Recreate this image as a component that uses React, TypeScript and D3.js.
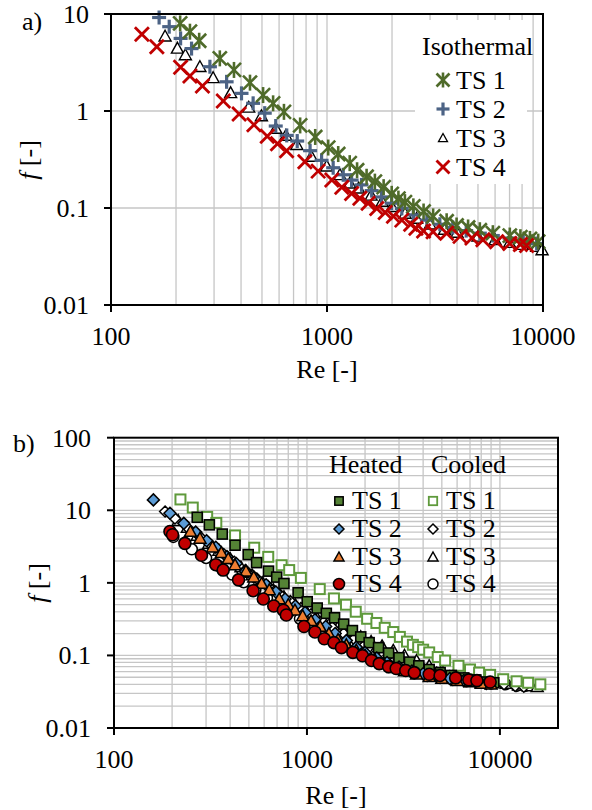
import React from "react";
import * as d3 from "d3";

// ---------- Chart a) Isothermal ----------
const isoTS1Re = [209, 232, 256, 319, 371, 440, 506, 563, 632, 751, 882, 1013, 1127, 1274, 1378, 1525, 1666, 1829, 1993, 2141, 2295, 2511, 2800, 3100, 3580, 3980, 4500, 5100, 5860, 7020, 7860, 8700, 9500];
const isoTS1F = [8.0, 6.57, 5.3, 3.49, 2.65, 1.96, 1.46, 1.2, 0.98, 0.71, 0.54, 0.42, 0.36, 0.29, 0.245, 0.21, 0.187, 0.164, 0.14, 0.125, 0.115, 0.104, 0.092, 0.082, 0.073, 0.066, 0.063, 0.059, 0.055, 0.052, 0.05, 0.048, 0.045];

const isoTS2Re = [167, 186, 210, 236, 287, 343, 402, 455, 515, 579, 651, 728, 835, 944, 1068, 1189, 1300, 1445, 1610, 1788, 1993, 2220, 2510, 2900, 3330, 3820, 4410, 5100, 5860, 7000, 8100, 9350];
const isoTS2F = [9.2, 7.4, 5.6, 4.4, 2.86, 2.0, 1.52, 1.2, 0.95, 0.7, 0.56, 0.49, 0.39, 0.31, 0.26, 0.22, 0.194, 0.173, 0.151, 0.13, 0.112, 0.099, 0.085, 0.075, 0.068, 0.063, 0.0585, 0.055, 0.052, 0.049, 0.046, 0.043];

const isoTS3Re = [178, 203, 221, 258, 297, 358, 434, 497, 580, 645, 725, 846, 997, 1148, 1275, 1400, 1600, 1800, 2000, 2300, 2600, 3000, 3500, 4000, 5000, 6000, 7000, 8000, 9350, 9900];
const isoTS3F = [5.9, 4.43, 3.78, 2.86, 2.2, 1.54, 1.09, 0.89, 0.66, 0.56, 0.45, 0.34, 0.27, 0.22, 0.18, 0.16, 0.135, 0.117, 0.103, 0.088, 0.078, 0.068, 0.06, 0.056, 0.051, 0.047, 0.044, 0.042, 0.04, 0.037];

const isoTS4Re = [139, 163, 210, 232, 265, 331, 392, 459, 529, 590, 650, 790, 910, 1053, 1171, 1300, 1420, 1550, 1700, 1860, 2030, 2220, 2440, 2580, 2800, 3100, 3580, 4130, 4690, 5270, 6100, 7020, 7860, 8400];
const isoTS4F = [6.2, 4.6, 2.82, 2.3, 1.81, 1.27, 0.93, 0.72, 0.55, 0.46, 0.39, 0.3, 0.24, 0.194, 0.164, 0.141, 0.126, 0.112, 0.099, 0.09, 0.082, 0.075, 0.068, 0.062, 0.058, 0.057, 0.055, 0.051, 0.049, 0.047, 0.045, 0.043, 0.042, 0.041];

// ---------- Chart b) Heated / Cooled ----------
const heatTS1Re = [270, 312, 364, 424, 496, 548, 632, 697, 760, 900, 1003, 1130, 1260, 1390, 1550, 1720, 1900, 2100, 2350, 2650, 3000, 3400, 3800, 4300, 4900, 5600, 6500, 7500, 8500, 9300];
const heatTS1F = [8.0, 6.3, 4.7, 3.3, 2.45, 1.9, 1.45, 1.2, 0.98, 0.73, 0.55, 0.45, 0.38, 0.33, 0.27, 0.22, 0.18, 0.15, 0.128, 0.108, 0.093, 0.081, 0.072, 0.064, 0.058, 0.053, 0.049, 0.046, 0.043, 0.042];

const coolTS1Re = [221, 256, 304, 339, 424, 533, 630, 739, 809, 930, 1165, 1380, 1593, 1790, 2050, 2290, 2530, 2800, 3030, 3300, 3540, 3770, 4000, 4300, 4760, 5200, 6100, 7000, 7800, 8900, 10400, 12200, 14000, 16200];
const coolTS1F = [14.1, 10.9, 8.1, 6.7, 4.5, 3.05, 2.28, 1.75, 1.5, 1.17, 0.82, 0.61, 0.5, 0.4, 0.32, 0.28, 0.24, 0.21, 0.18, 0.155, 0.14, 0.13, 0.12, 0.11, 0.095, 0.085, 0.072, 0.064, 0.058, 0.054, 0.047, 0.044, 0.042, 0.04];

const heatTS2Re = [160, 195, 230, 265, 302, 337, 385, 430, 480, 531, 614, 690, 770, 870, 978, 1100, 1250, 1400, 1600, 1800, 2000, 2300, 2600, 3000, 3500, 4000, 4700, 5500, 6500, 7500, 8500];
const heatTS2F = [13.9, 9.1, 6.6, 5.0, 3.8, 3.1, 2.3, 1.85, 1.45, 1.2, 0.94, 0.75, 0.6, 0.48, 0.39, 0.31, 0.25, 0.2, 0.16, 0.13, 0.11, 0.092, 0.08, 0.069, 0.061, 0.056, 0.052, 0.048, 0.045, 0.043, 0.041];

const heatTS3Re = [249, 279, 324, 360, 391, 424, 483, 530, 582, 638, 718, 800, 866, 950, 1050, 1170, 1300, 1450, 1600, 1800, 2000, 2250, 2500, 2800, 3200, 3700, 4300, 5000, 6000, 7000, 8000, 9000];
const heatTS3F = [5.1, 4.1, 3.1, 2.6, 2.15, 1.77, 1.45, 1.2, 0.98, 0.8, 0.6, 0.5, 0.42, 0.35, 0.3, 0.25, 0.2, 0.165, 0.14, 0.118, 0.1, 0.087, 0.077, 0.068, 0.061, 0.055, 0.051, 0.048, 0.045, 0.043, 0.041, 0.04];

const heatTS4Re = [195, 201, 233, 284, 337, 368, 442, 526, 594, 673, 755, 782, 965, 1100, 1230, 1380, 1510, 1730, 1940, 2160, 2370, 2650, 2900, 3250, 3600, 4300, 4900, 5900, 6900, 7600, 8900];
const heatTS4F = [5.1, 4.6, 3.5, 2.4, 1.78, 1.5, 1.1, 0.78, 0.6, 0.48, 0.42, 0.36, 0.25, 0.21, 0.17, 0.15, 0.128, 0.11, 0.099, 0.085, 0.077, 0.07, 0.066, 0.062, 0.058, 0.055, 0.053, 0.049, 0.046, 0.045, 0.043];

const coolTS2Re = [184, 207, 243, 280, 320, 370, 420, 480, 550, 630, 720, 820, 930, 1050, 1200, 1350, 1550, 1750, 2000, 2300, 2650, 3000, 3500, 4000, 4700, 5500, 6500, 7700, 9000, 10500, 12000, 13300];
const coolTS2F = [9.6, 7.7, 5.6, 4.3, 3.3, 2.5, 1.95, 1.5, 1.15, 0.9, 0.7, 0.56, 0.45, 0.37, 0.3, 0.245, 0.2, 0.168, 0.14, 0.118, 0.1, 0.088, 0.075, 0.066, 0.058, 0.052, 0.048, 0.045, 0.042, 0.04, 0.038, 0.037];

const coolTS3Re = [215, 240, 270, 310, 350, 400, 455, 520, 590, 670, 760, 870, 990, 1120, 1270, 1450, 1650, 1900, 2150, 2450, 2800, 3200, 3700, 4300, 5000, 5800, 6800, 8000, 9300, 10800, 12500, 14000, 15600];
const coolTS3F = [7.2, 5.8, 4.5, 3.5, 2.8, 2.15, 1.65, 1.28, 1.0, 0.8, 0.64, 0.5, 0.41, 0.34, 0.29, 0.25, 0.21, 0.18, 0.155, 0.135, 0.117, 0.1, 0.085, 0.072, 0.062, 0.055, 0.05, 0.046, 0.043, 0.041, 0.039, 0.038, 0.037];

const coolTS4Re = [203, 253, 300, 350, 410, 470, 540, 620, 710, 810, 920, 1050, 1200, 1370, 1570, 1800, 2050, 2350, 2700, 3100, 3600, 4200, 4900, 5700, 6700, 7800, 9000, 10700, 12200, 13500];
const coolTS4F = [4.3, 2.9, 2.2, 1.7, 1.3, 1.02, 0.8, 0.62, 0.5, 0.4, 0.32, 0.26, 0.21, 0.17, 0.14, 0.115, 0.097, 0.082, 0.071, 0.063, 0.057, 0.052, 0.049, 0.046, 0.044, 0.042, 0.041, 0.04, 0.038, 0.038];

// ---------- tick labels ----------
const topXTicks = [100, 1000, 10000];
const topXTickLabels = ["100", "1000", "10000"];
const topYTicks = [10, 1, 0.1, 0.01];
const topYTickLabels = ["10", "1", "0.1", "0.01"];
const botXTicks = [100, 1000, 10000];
const botXTickLabels = ["100", "1000", "10000"];
const botYTicks = [100, 10, 1, 0.1, 0.01];
const botYTickLabels = ["100", "10", "1", "0.1", "0.01"];

const FONT = "Liberation Serif, Times New Roman, Tinos, DejaVu Serif, serif";
const FS = 26;
const GRID = "#c6c6c6";

const zip = (a: number[], b: number[]) => a.map((v, i) => [v, b[i]] as [number, number]);

function minorValues(lo: number, hi: number) {
  const out: number[] = [];
  for (let p = Math.floor(Math.log10(lo)); p <= Math.ceil(Math.log10(hi)); p++) {
    for (let m = 2; m <= 9; m++) {
      const v = m * Math.pow(10, p);
      if (v > lo * 1.0001 && v < hi * 0.9999) out.push(+v.toPrecision(6));
    }
  }
  return out;
}

// ---------- markers ----------
type MK = (x: number, y: number, k: string) => React.ReactNode;
const starM = (c: string, h = 7): MK => (x, y, k) => (
  <g key={k} stroke={c} strokeWidth={2.6} strokeLinecap="butt">
    <line x1={x - h} y1={y - h} x2={x + h} y2={y + h} />
    <line x1={x - h} y1={y + h} x2={x + h} y2={y - h} />
    <line x1={x} y1={y - h - 1} x2={x} y2={y + h + 1} />
  </g>
);
const plusM = (c: string, h = 7): MK => (x, y, k) => (
  <g key={k} stroke={c} strokeWidth={3.2}>
    <line x1={x - h} y1={y} x2={x + h} y2={y} />
    <line x1={x} y1={y - h} x2={x} y2={y + h} />
  </g>
);
const crossM = (c: string, h = 7): MK => (x, y, k) => (
  <g key={k} stroke={c} strokeWidth={2.8}>
    <line x1={x - h} y1={y - h} x2={x + h} y2={y + h} />
    <line x1={x - h} y1={y + h} x2={x + h} y2={y - h} />
  </g>
);
const triM = (fill: string, stroke: string, h = 5.5, sw = 1.4): MK => (x, y, k) => (
  <path key={k} d={`M${x},${y - h}L${x + h},${y + h * 0.8}L${x - h},${y + h * 0.8}Z`} fill={fill} stroke={stroke} strokeWidth={sw} />
);
const squareM = (fill: string, stroke: string, h = 4.5, sw = 1.4): MK => (x, y, k) => (
  <rect key={k} x={x - h} y={y - h} width={2 * h} height={2 * h} fill={fill} stroke={stroke} strokeWidth={sw} />
);
const diamondM = (fill: string, stroke: string, h = 5.5, sw = 1.4): MK => (x, y, k) => (
  <path key={k} d={`M${x},${y - h}L${x + h},${y}L${x},${y + h}L${x - h},${y}Z`} fill={fill} stroke={stroke} strokeWidth={sw} />
);
const circleM = (fill: string, stroke: string, r = 5.5, sw = 1.5): MK => (x, y, k) => (
  <circle key={k} cx={x} cy={y} r={r} fill={fill} stroke={stroke} strokeWidth={sw} />
);

const GREEN_ISO = "#4f6b2a";
const BLUE_ISO = "#4c6385";
const RED = "#c00000";
const GREEN_H = "#548235";
const GREEN_C = "#5f9a3c";
const BLUE_H = "#5b9bd5";
const ORANGE_H = "#ed7d31";

export default function App() {
  // chart a
  const xA = d3.scaleLog().domain([100, 10000]).range([111, 543]);
  const yA = d3.scaleLog().domain([0.01, 10]).range([305, 14]);
  // chart b
  const xB = d3.scaleLog().domain([100, 20000]).range([114, 558]);
  const yB = d3.scaleLog().domain([0.01, 100]).range([728, 437.7]);

  const seriesA: { pts: [number, number][]; m: MK }[] = [
    { pts: zip(isoTS3Re, isoTS3F), m: triM("#fff", "#000", 6, 1.4) },
    { pts: zip(isoTS2Re, isoTS2F), m: plusM(BLUE_ISO) },
    { pts: zip(isoTS1Re, isoTS1F), m: starM(GREEN_ISO) },
    { pts: zip(isoTS4Re, isoTS4F), m: crossM(RED) },
  ];

  const seriesB: { pts: [number, number][]; m: MK }[] = [
    { pts: zip(coolTS4Re, coolTS4F), m: circleM("#fff", "#000") },
    { pts: zip(coolTS3Re, coolTS3F), m: triM("#fff", "#000", 6, 1.5) },
    { pts: zip(coolTS2Re, coolTS2F), m: diamondM("#fff", "#000", 5.5, 1.5) },
    { pts: zip(coolTS1Re, coolTS1F), m: squareM("#fff", GREEN_C, 5, 2) },
    { pts: zip(heatTS1Re, heatTS1F), m: squareM(GREEN_H, "#000", 5, 1.6) },
    { pts: zip(heatTS2Re, heatTS2F), m: diamondM(BLUE_H, "#000", 6, 1.5) },
    { pts: zip(heatTS3Re, heatTS3F), m: triM(ORANGE_H, "#000", 6, 1.5) },
    { pts: zip(heatTS4Re, heatTS4F), m: circleM(RED, "#000", 6, 1.6) },
  ];

  const aMinorX = minorValues(100, 10000);
  const bMinorX = minorValues(100, 20000);
  const bMinorY = minorValues(0.01, 100);

  const text = (x: number, y: number, s: React.ReactNode, anchor = "start", key?: string) => (
    <text key={key} x={x} y={y} textAnchor={anchor as any} style={{ fontFamily: FONT, fontSize: FS }} fill="#000">{s}</text>
  );

  const legA = [
    { m: starM(GREEN_ISO, 6.5), t: "TS 1", y: 80 },
    { m: plusM(BLUE_ISO, 6.5), t: "TS 2", y: 109 },
    { m: triM("#fff", "#000", 4.5, 1.3), t: "TS 3", y: 138 },
    { m: crossM(RED, 6.5), t: "TS 4", y: 167 },
  ];

  const legBH = [
    { m: squareM(GREEN_H, "#000", 4.2, 1.5), t: "TS 1" },
    { m: diamondM(BLUE_H, "#000", 5, 1.5), t: "TS 2" },
    { m: triM(ORANGE_H, "#000", 5, 1.5), t: "TS 3" },
    { m: circleM(RED, "#000", 5.5, 1.6), t: "TS 4" },
  ];
  const legBC = [
    { m: squareM("#fff", GREEN_C, 4.2, 1.8), t: "TS 1" },
    { m: diamondM("#fff", "#000", 5, 1.5), t: "TS 2" },
    { m: triM("#fff", "#000", 5, 1.5), t: "TS 3" },
    { m: circleM("#fff", "#000", 5, 1.5), t: "TS 4" },
  ];
  const legBRowY = [501, 529, 557, 584];

  return (
    <svg width={592} height={810} style={{ position: "absolute", left: 0, top: 0, background: "#fff" }}>
      <rect x={0} y={0} width={592} height={810} fill="#fff" />

      {/* ===== chart a ===== */}
      <g>
        {aMinorX.map((v) => (
          <line key={"ax" + v} x1={xA(v)} x2={xA(v)} y1={14} y2={305} stroke={GRID} strokeWidth={1.3} />
        ))}
        <line x1={xA(1000)} x2={xA(1000)} y1={14} y2={305} stroke={GRID} strokeWidth={1.3} />
        {[1, 0.1].map((v) => (
          <line key={"ay" + v} x1={111} x2={543} y1={yA(v)} y2={yA(v)} stroke={GRID} strokeWidth={1.3} />
        ))}
        {/* legend background */}
        <rect x={415} y={20} width={112} height={164} fill="#fff" />
        {seriesA.map((s, si) => s.pts.map((p, i) => s.m(xA(p[0]), yA(p[1]), `a${si}-${i}`)))}
        <rect x={111} y={14} width={432} height={291} fill="none" stroke="#000" strokeWidth={2} />
        {topXTicks.map((v) => (
          <line key={"atx" + v} x1={xA(v)} x2={xA(v)} y1={305} y2={312} stroke="#000" strokeWidth={2} />
        ))}
        {topYTicks.map((v) => (
          <line key={"aty" + v} x1={104} x2={111} y1={yA(v)} y2={yA(v)} stroke="#000" strokeWidth={2} />
        ))}
        {topXTicks.map((v, i) => text(xA(v), 345, topXTickLabels[i], "middle", "atl" + v))}
        {topYTicks.map((v, i) => text(89, yA(v) + 9, topYTickLabels[i], "end", "ayl" + v))}
        {text(327, 378, "Re [-]", "middle")}
        <text transform={`translate(37,160) rotate(-90)`} textAnchor="middle" style={{ fontFamily: FONT, fontSize: FS }}>
          <tspan fontStyle="italic">f</tspan> [-]
        </text>
        {text(22, 30, "a)")}
        {text(422, 55, "Isothermal")}
        {legA.map((l, i) => (
          <g key={"la" + i}>
            {l.m(443, l.y, "lam" + i)}
            {text(456, l.y + 9, l.t)}
          </g>
        ))}
      </g>

      {/* ===== chart b ===== */}
      <g>
        {bMinorX.map((v) => (
          <line key={"bx" + v} x1={xB(v)} x2={xB(v)} y1={437.7} y2={728} stroke={GRID} strokeWidth={1.3} />
        ))}
        {[1000, 10000].map((v) => (
          <line key={"bxm" + v} x1={xB(v)} x2={xB(v)} y1={437.7} y2={728} stroke={GRID} strokeWidth={1.3} />
        ))}
        {bMinorY.map((v) => (
          <line key={"by" + v} x1={114} x2={558} y1={yB(v)} y2={yB(v)} stroke={GRID} strokeWidth={1.3} />
        ))}
        {[10, 1, 0.1].map((v) => (
          <line key={"bym" + v} x1={114} x2={558} y1={yB(v)} y2={yB(v)} stroke={GRID} strokeWidth={1.3} />
        ))}
        {seriesB.map((s, si) => s.pts.map((p, i) => s.m(xB(p[0]), yB(p[1]), `b${si}-${i}`)))}
        <rect x={114} y={437.7} width={444} height={290.3} fill="none" stroke="#000" strokeWidth={2} />
        {botXTicks.map((v) => (
          <line key={"btx" + v} x1={xB(v)} x2={xB(v)} y1={728} y2={735} stroke="#000" strokeWidth={2} />
        ))}
        {botYTicks.map((v) => (
          <line key={"bty" + v} x1={107} x2={114} y1={yB(v)} y2={yB(v)} stroke="#000" strokeWidth={2} />
        ))}
        {botXTicks.map((v, i) => text(xB(v), 768, botXTickLabels[i], "middle", "btl" + v))}
        {botYTicks.map((v, i) => text(91, yB(v) + 9, botYTickLabels[i], "end", "byl" + v))}
        {text(336, 804, "Re [-]", "middle")}
        <text transform={`translate(46,583) rotate(-90)`} textAnchor="middle" style={{ fontFamily: FONT, fontSize: FS }}>
          <tspan fontStyle="italic">f</tspan> [-]
        </text>
        {text(13, 452, "b)")}
        {text(329, 473, "Heated")}
        {text(431, 473, "Cooled")}
        {legBH.map((l, i) => (
          <g key={"lbh" + i}>
            {l.m(339, legBRowY[i], "lbhm" + i)}
            {text(352, legBRowY[i] + 8, l.t)}
          </g>
        ))}
        {legBC.map((l, i) => (
          <g key={"lbc" + i}>
            {l.m(433, legBRowY[i], "lbcm" + i)}
            {text(446, legBRowY[i] + 8, l.t)}
          </g>
        ))}
      </g>
    </svg>
  );
}
